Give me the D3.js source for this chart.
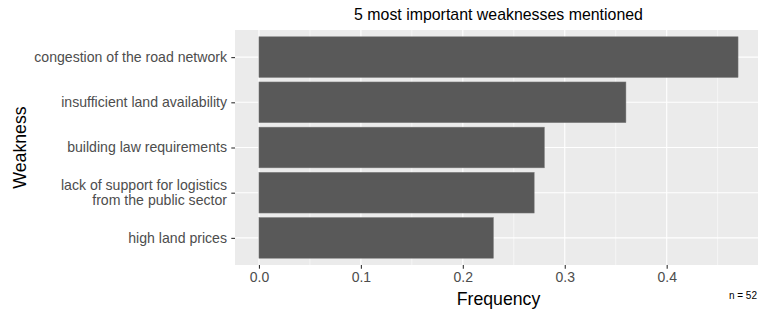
<!DOCTYPE html>
<html>
<head>
<meta charset="utf-8">
<script src="https://cdn.jsdelivr.net/npm/d3@7"></script>
<style>
  body { margin: 0; background: #fff; }
  text { font-family: "Liberation Sans", Arial, sans-serif; }
</style>
</head>
<body>
<div id="viz"><svg width="758" height="313"></svg></div>
<script>
const weaknesses = [
  "congestion of the road network",
  "insufficient land availability",
  "building law requirements",
  "lack of support for logistics\nfrom the public sector",
  "high land prices"
];
const frequency = [0.47, 0.36, 0.28, 0.27, 0.23];
const xTicks = [0, 0.1, 0.2, 0.3, 0.4];
const xMinor = [0.05, 0.15, 0.25, 0.35, 0.45];
const sampleSize = 52;

const data = weaknesses.map((w, i) => ({ name: w, value: frequency[i] }));

const svg = d3.select("#viz svg");
const panelLeft = 235, panelTop = 30, panelBottom = 265;

// ggplot style 5% expansion on continuous axis
const maxVal = d3.max(frequency);
const pad = maxVal * 0.05;
const x = d3.scaleLinear().domain([-pad, maxVal + pad]).range([panelLeft, 762]);
const panelRight = x.range()[1];

// discrete axis, 0.6 units expansion each side
const y = d3.scalePoint().domain(weaknesses).range([panelTop, panelBottom]).padding(0.6);
const step = y.step();

svg.append("rect")
  .attr("x", panelLeft).attr("y", panelTop)
  .attr("width", panelRight - panelLeft).attr("height", panelBottom - panelTop)
  .attr("fill", "#EBEBEB");

const grid = svg.append("g");
grid.selectAll(".minor")
  .data(xMinor)
  .enter().append("line")
  .attr("x1", d => x(d)).attr("x2", d => x(d))
  .attr("y1", panelTop).attr("y2", panelBottom)
  .attr("stroke", "#fff").attr("stroke-width", 0.55);
grid.selectAll(".major")
  .data(xTicks)
  .enter().append("line")
  .attr("x1", d => x(d)).attr("x2", d => x(d))
  .attr("y1", panelTop).attr("y2", panelBottom)
  .attr("stroke", "#fff").attr("stroke-width", 1.1);
grid.selectAll(".majory")
  .data(weaknesses)
  .enter().append("line")
  .attr("x1", panelLeft).attr("x2", panelRight)
  .attr("y1", d => y(d)).attr("y2", d => y(d))
  .attr("stroke", "#fff").attr("stroke-width", 1.1);

svg.selectAll(".bar")
  .data(data)
  .enter().append("rect")
  .attr("class", "bar")
  .attr("x", x(0))
  .attr("y", d => y(d.name) - step * 0.45)
  .attr("width", d => x(d.value) - x(0))
  .attr("height", step * 0.9)
  .attr("fill", "#595959")
  .attr("stroke", "#7a7a7a")
  .attr("stroke-width", 0.5);

// x axis
const xAxis = svg.append("g")
  .attr("transform", `translate(0,${panelBottom})`)
  .call(d3.axisBottom(x).tickValues(xTicks).tickFormat(d3.format(".1f")).tickSize(3.7).tickPadding(3));
xAxis.select(".domain").remove();
xAxis.selectAll("line").attr("stroke", "#333").attr("stroke-width", 1.1);
xAxis.selectAll("text").attr("fill", "#4D4D4D").style("font-size", "14px")
  .style("font-family", '"Liberation Sans", Arial, sans-serif');

// y axis
const yAxis = svg.append("g")
  .attr("transform", `translate(${panelLeft},0)`)
  .call(d3.axisLeft(y).tickSize(3.7).tickFormat(""));
yAxis.select(".domain").remove();
yAxis.selectAll("line").attr("stroke", "#333").attr("stroke-width", 1.1);

const labels = svg.append("g").selectAll("text")
  .data(weaknesses)
  .enter().append("text")
  .attr("text-anchor", "end")
  .attr("fill", "#4D4D4D")
  .style("font-size", "14.1px");
labels.each(function (d) {
  const lines = d.split("\n");
  const lh = 15.5;
  const t = d3.select(this);
  lines.forEach((ln, i) => {
    t.append("tspan")
      .attr("x", panelLeft - 8)
      .attr("y", y(d) + (i - (lines.length - 1) / 2) * lh)
      .attr("dy", "0.35em")
      .text(ln);
  });
});

// titles
svg.append("text")
  .attr("x", (panelLeft + panelRight) / 2).attr("y", 19.5)
  .attr("text-anchor", "middle")
  .style("font-size", "15.9px")
  .attr("fill", "#000")
  .text("5 most important weaknesses mentioned");

svg.append("text")
  .attr("x", (panelLeft + panelRight) / 2).attr("y", 304.5)
  .attr("text-anchor", "middle")
  .style("font-size", "17.7px")
  .attr("fill", "#000")
  .text("Frequency");

svg.append("text")
  .attr("transform", `translate(26,${(panelTop + panelBottom) / 2}) rotate(-90)`)
  .attr("text-anchor", "middle")
  .style("font-size", "17.7px")
  .attr("fill", "#000")
  .text("Weakness");

svg.append("text")
  .attr("x", 757).attr("y", 299)
  .attr("text-anchor", "end")
  .style("font-size", "10px")
  .attr("fill", "#000")
  .text("n = " + sampleSize);
</script>
</body>
</html>
